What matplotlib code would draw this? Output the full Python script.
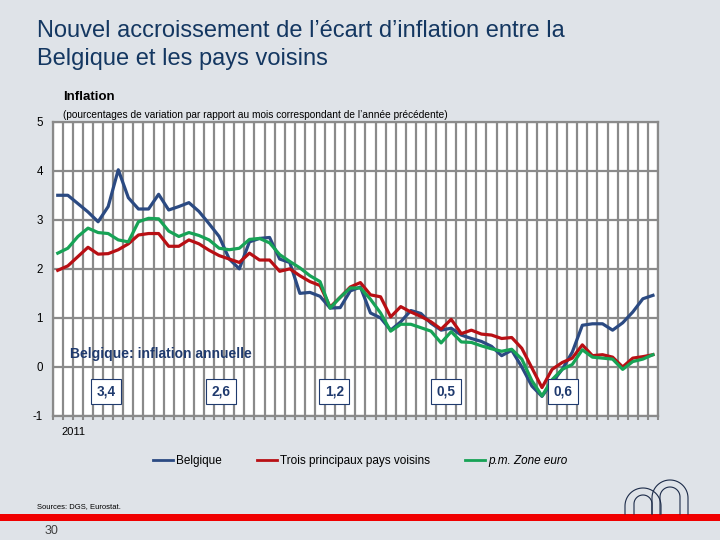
import numpy as np
import matplotlib
matplotlib.use('Agg')
import matplotlib.pyplot as plt

plt.rcParams['font.family'] = ['Liberation Sans', 'DejaVu Sans']

# monthly data, Jan 2011 - Dec 2015
belgique = [3.5, 3.5, 3.33, 3.16, 2.96, 3.27, 4.02, 3.45, 3.22, 3.22, 3.52, 3.2,
            3.27, 3.35, 3.17, 2.92, 2.66, 2.2, 2.0, 2.55, 2.62, 2.64, 2.2, 2.13,
            1.5, 1.52, 1.44, 1.2, 1.21, 1.55, 1.63, 1.1, 1.0, 0.75, 0.92, 1.15,
            1.09, 0.89, 0.75, 0.79, 0.65, 0.58, 0.52, 0.42, 0.23, 0.34, 0.0, -0.39,
            -0.6, -0.32, -0.05, 0.3, 0.85, 0.88, 0.88, 0.75, 0.9, 1.12, 1.39, 1.46]
voisins = [1.97, 2.06, 2.25, 2.44, 2.3, 2.31, 2.39, 2.51, 2.69, 2.72, 2.72, 2.46,
           2.46, 2.59, 2.51, 2.38, 2.27, 2.2, 2.13, 2.32, 2.18, 2.18, 1.95, 2.0,
           1.86, 1.74, 1.66, 1.22, 1.42, 1.63, 1.72, 1.47, 1.43, 1.02, 1.23, 1.12,
           1.03, 0.92, 0.77, 0.97, 0.68, 0.75, 0.67, 0.65, 0.58, 0.6, 0.38, -0.02,
           -0.42, -0.05, 0.09, 0.18, 0.45, 0.23, 0.25, 0.2, 0.0, 0.18, 0.21, 0.25]
zone_euro = [2.32, 2.42, 2.66, 2.83, 2.74, 2.72, 2.59, 2.55, 2.96, 3.03, 3.02, 2.77,
             2.66, 2.74, 2.68, 2.59, 2.42, 2.39, 2.42, 2.6, 2.62, 2.53, 2.29, 2.15,
             2.02, 1.86, 1.74, 1.2, 1.42, 1.61, 1.61, 1.38, 1.1, 0.73, 0.87, 0.87,
             0.8, 0.73, 0.49, 0.72, 0.51, 0.5, 0.43, 0.37, 0.32, 0.36, 0.16, -0.28,
             -0.59, -0.26, -0.05, 0.05, 0.35, 0.2, 0.18, 0.16, -0.05, 0.11, 0.16, 0.25]

annual_labels = ['3,4', '2,6', '1,2', '0,5', '0,6']
annual_pos = [4.8, 16.2, 27.4, 38.5, 50.1]
y_ticks = [-1, 0, 1, 2, 3, 4, 5]

bg = '#DFE3E8'
navy = '#1F3A6E'
grid_c = '#8A8A8A'

fig = plt.figure(figsize=(7.2, 5.4), dpi=100, facecolor=bg)

def fx(px):
    return px / 720

def fy(py):
    return 1 - py / 540

ax = fig.add_axes([fx(52.7), fy(416), fx(658) - fx(52.7), fy(121.7) - fy(416)])
ax.set_facecolor('white')

months = np.arange(len(belgique))
ax.plot(months, belgique, color='#2B4A82', lw=2.3, zorder=3)
ax.plot(months, voisins, color='#B80F14', lw=2.3, zorder=3)
ax.plot(months, zone_euro, color='#17A356', lw=2.3, zorder=3)

ax.set_xlim(-0.5, len(belgique) - 0.5)
ax.set_ylim(-1, 5)
ax.set_xticks(np.arange(-0.5, len(belgique), 1))
ax.set_xticklabels([])
ax.set_yticks(y_ticks)
ax.set_yticklabels([str(v) for v in y_ticks], fontsize=8.3)
ax.tick_params(axis='y', length=0, pad=7)
ax.tick_params(axis='x', length=3, color=grid_c, width=1.5)
ax.grid(True, color=grid_c, lw=1.6, zorder=1)
ax.set_axisbelow(True)
for s in ax.spines.values():
    s.set_color(grid_c)
    s.set_linewidth(1.6)

ax.text(1.2, 0.27, 'Belgique: inflation annuelle', color=navy, fontsize=10,
        fontweight='bold', va='center', ha='left', zorder=4)
for lab, xp in zip(annual_labels, annual_pos):
    ax.text(xp, -0.5, lab, color=navy, fontsize=9.8, fontweight='bold', ha='center',
            va='center', zorder=4,
            bbox=dict(boxstyle='square,pad=0.4', fc='white', ec=navy, lw=0.8))

# texts around the chart
fig.text(fx(37), fy(31), 'Nouvel accroissement de l\u2019\u00e9cart d\u2019inflation entre la',
         fontsize=17, color='#143761', va='center')
fig.text(fx(37), fy(59), 'Belgique et les pays voisins', fontsize=17, color='#143761', va='center')
fig.text(fx(63), fy(97), 'Inflation', fontsize=9.5, fontweight='bold', va='center')
fig.text(fx(63), fy(115), '(pourcentages de variation par rapport au mois correspondant de l\u2019ann\u00e9e pr\u00e9c\u00e9dente)',
         fontsize=7.25, va='center')
fig.text(fx(61), fy(432), '2011', fontsize=8, va='center')
fig.text(fx(37), fy(507), 'Sources: DGS, Eurostat.', fontsize=5.5, va='center')
fig.text(fx(45), fy(531), '30', fontsize=9, color='#404040', va='center')

leg = fig.legend(['Belgique', 'Trois principaux pays voisins', 'p.m. Zone euro'],
                 loc='center', bbox_to_anchor=(0.5, fy(461)), ncol=3, frameon=False,
                 fontsize=8.5, handlelength=1.7, handletextpad=0.25, columnspacing=3.0)
for h in leg.legend_handles:
    h.set_linewidth(2)
leg.get_texts()[2].set_style('italic')

# overlay in pixel coordinates for the footer bar and logo
ov = fig.add_axes([0, 0, 1, 1], facecolor='none')
ov.set_xlim(0, 720)
ov.set_ylim(540, 0)
ov.axis('off')
ov.fill_between([0, 720], 514, 521, color='#F00000', lw=0)

def arch(x0, x1, ytop, ybot):
    r = (x1 - x0) / 2
    cx = x0 + r
    t = np.linspace(np.pi, 0, 40)
    xs = np.concatenate([[x0], cx + r * np.cos(t), [x1]])
    ys = np.concatenate([[ybot], ytop + r - r * np.sin(t), [ybot]])
    ov.plot(xs, ys, color='#1B2A48', lw=0.8)

arch(625, 661, 488, 514)
arch(634, 652, 495, 514)
arch(652, 688, 480, 514)
arch(660, 680, 487, 514)

fig.savefig('out.png', dpi=100, facecolor=bg)
